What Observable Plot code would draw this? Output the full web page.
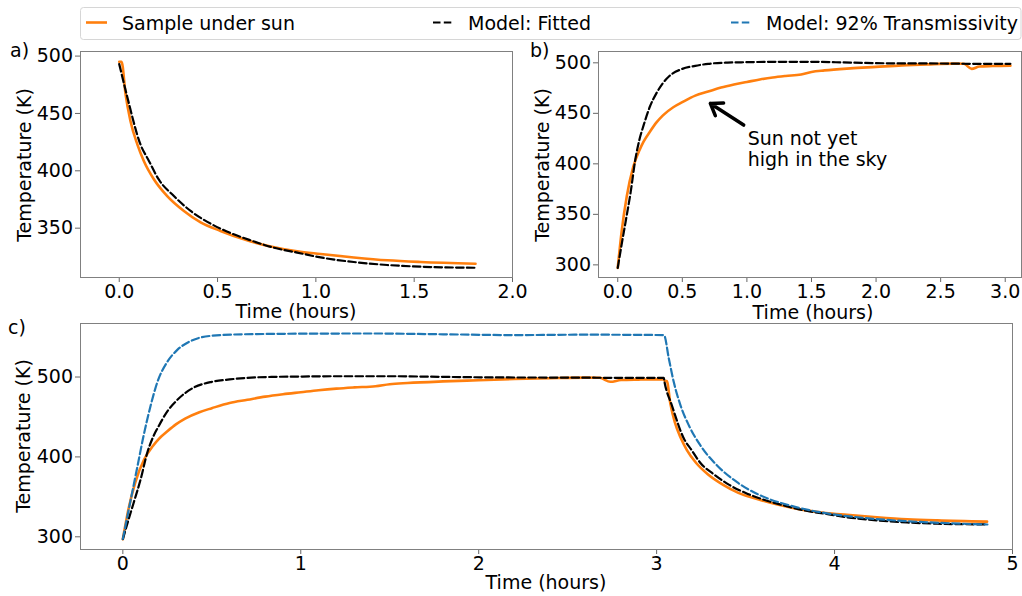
<!DOCTYPE html>
<html><head><meta charset="utf-8">
<script src="https://cdn.jsdelivr.net/npm/d3@7"></script>
<script src="https://cdn.jsdelivr.net/npm/@observablehq/plot@0.6"></script>
<style>
body{margin:0;background:#fff;font-family:"DejaVu Sans",sans-serif;}
#root{position:relative;width:1022px;height:596px;overflow:hidden;background:#fff;}
#root svg{position:absolute;overflow:visible;}
</style></head><body><div id="root"></div>
<script>
// ---------- data (time in hours, temperature in K) ----------
const sampleHeating = [[0,297],[0.03,333],[0.07,368],[0.12,397],[0.17,414],[0.2,422],[0.25,432],[0.3,441],[0.35,448],[0.43,456],[0.5,461],[0.6,467.5],[0.7,471.5],[0.8,475.5],[0.9,478.5],[1.0,481],[1.1,483.5],[1.2,485.5],[1.3,487],[1.42,488.5],[1.5,491],[1.6,492.5],[1.8,494.5],[2.0,496],[2.2,497.5],[2.4,498.5],[2.6,499.2],[2.68,499],[2.74,494],[2.8,496.3],[2.9,496.8],[3.04,497.2]];
const fittedHeating = [[0,297],[0.03,320],[0.06,342],[0.1,372],[0.137,405],[0.17,425],[0.2,438],[0.25,457],[0.3,470],[0.35,480],[0.4,487],[0.5,494],[0.6,497],[0.7,499],[0.85,500.2],[1.0,500.6],[1.2,501],[1.5,501],[1.8,500.2],[2.1,499.5],[2.5,499.3],[2.8,499],[3.04,499]];
const sampleCooling = [[0,495],[0.012,495],[0.032,467],[0.057,443.5],[0.092,423],[0.125,408.6],[0.176,392.7],[0.244,378],[0.329,365],[0.414,355],[0.515,347.6],[0.634,340.3],[0.77,334],[0.905,329.8],[1.024,327.5],[1.193,324.5],[1.363,322],[1.533,320.5],[1.812,319]];
const fittedCooling = [[0,493],[0.04,465],[0.108,423],[0.151,408.6],[0.2,392.7],[0.278,378],[0.363,365],[0.464,354],[0.566,345.8],[0.668,339.4],[0.786,333],[0.905,328.7],[1.024,324.5],[1.193,320.5],[1.363,317.9],[1.533,316.4],[1.807,315.5]];
const transmissivity92 = [[0,297.5],[0.043,345],[0.081,387],[0.118,428],[0.156,464],[0.193,493],[0.25,519],[0.306,534],[0.381,545],[0.493,551.5],[0.68,553.5],[1.055,554.3],[1.4,554.5],[1.8,553.5],[2.2,552.5],[2.6,553],[3.041,552.5],[3.069,522.5],[3.097,493],[3.135,464],[3.182,439],[3.247,414],[3.341,389],[3.454,368],[3.585,351.6],[3.753,339],[3.866,333],[3.94,330],[4.22,322.5],[4.5,318.4],[4.859,315.4]];
const coolingStart = 3.045; // hours, sun removed
const seriesNames = ["Sample under sun","Model: Fitted","Model: 92% Transmissivity"];
const seriesColors = ["#ff7f0e","#000000","#1f77b4"];
const panelLetters = ["a)","b)","c)"];
const xTicksA = [0,0.5,1,1.5,2], yTicksA = [350,400,450,500];
const xTicksB = [0,0.5,1,1.5,2,2.5,3], yTicksB = [300,350,400,450,500];
const xTicksC = [0,1,2,3,4,5], yTicksC = [300,400,500];
const note = "Sun not yet\nhigh in the sky";
const noteArrow = {x1:0.975, y1:438.4, x2:0.717, y2:459.8};
const notePos = {x:1.006, y:434};

const sampleFull = sampleHeating.concat(sampleCooling.map(d=>[d[0]+coolingStart,d[1]]));
const fittedFull = fittedHeating.concat(fittedCooling.map(d=>[d[0]+coolingStart,d[1]]));

const root = document.getElementById("root");
const FONT = "DejaVu Sans";
const FS = 19;
const dash = "7.5,3.3";

function lines(series){
  return series.map(([data,i])=>Plot.line(data,{x:d=>d[0],y:d=>d[1],stroke:seriesColors[i],
    strokeWidth:i===0?2.6:2.2,strokeDasharray:i===0?null:dash,curve:"monotone-x"}));
}

function panel(o){
  const p = Plot.plot({
    width:o.width,height:o.height,
    marginLeft:o.ml,marginRight:o.mr,marginTop:o.mt,marginBottom:o.mb,
    x:{domain:o.xd},y:{domain:o.yd},
    style:{fontSize:FS+"px",fontFamily:FONT,background:"transparent",color:"#000",overflow:"visible"},
    marks:[
      Plot.axisX({ticks:o.xt,tickFormat:o.xf,tickSize:5,tickPadding:2,label:null,stroke:"#666",fill:"#000"}),
      Plot.axisY({ticks:o.yt,tickFormat:d3.format("d"),tickSize:5,tickPadding:2.5,label:null,stroke:"#666",fill:"#000"}),
      ...lines(o.series),
      ...(o.extra||[]),
      Plot.frame({stroke:"#808080",strokeWidth:1})
    ]
  });
  p.style.left=o.left+"px"; p.style.top=o.top+"px";
  root.appendChild(p);
}

panel({left:0,top:0,width:520,height:330,ml:80,mr:8,mt:51,mb:53,
  xd:[-0.197,2.0],yd:[307,504],xt:xTicksA,yt:yTicksA,xf:d3.format(".1f"),
  series:[[sampleCooling,0],[fittedCooling,1]]});

panel({left:520,top:0,width:502,height:330,ml:78,mr:1,mt:51,mb:53,
  xd:[-0.149,3.126],yd:[287.5,511.2],xt:xTicksB,yt:yTicksB,xf:d3.format(".1f"),
  series:[[sampleHeating,0],[fittedHeating,1]],
  extra:[
    Plot.arrow([noteArrow],{x1:"x1",y1:"y1",x2:"x2",y2:"y2",stroke:"#000",strokeWidth:3.5,headLength:12,headAngle:70}),
    Plot.text([note],{x:notePos.x,y:notePos.y,text:d=>d,textAnchor:"start",lineAnchor:"top",lineHeight:1.12,fontSize:FS,fill:"#000"})
  ]});

panel({left:0,top:300,width:1022,height:296,ml:80,mr:10,mt:23,mb:47,
  xd:[-0.238,5.0],yd:[284.1,567],xt:xTicksC,yt:yTicksC,xf:d3.format("d"),
  series:[[sampleFull,0],[fittedFull,1],[transmissivity92,2]]});

// ---------- overlay: legend, panel letters, axis labels ----------
const ov=d3.select(root).append("svg").attr("width",1022).attr("height",596)
  .style("left","0px").style("top","0px").style("pointer-events","none")
  .attr("font-family",FONT).attr("font-size",FS).attr("fill","#000");
ov.append("rect").attr("x",80.5).attr("y",7.5).attr("width",940.5).attr("height",32).attr("rx",3)
  .attr("fill","#fff").attr("fill-opacity",0.8).attr("stroke","#d6d6d6");
const legX=[[86,122],[433,468],[731,766]];
seriesNames.forEach((name,i)=>{
  ov.append("line").attr("x1",legX[i][0]).attr("x2",legX[i][0]+21).attr("y1",22.5).attr("y2",22.5)
    .attr("stroke",seriesColors[i]).attr("stroke-width",i===0?2.6:2.2).attr("stroke-dasharray",i===0?null:dash);
  ov.append("text").attr("x",legX[i][1]).attr("y",29.5).text(name);
});
const letterPos=[[10,57],[530,57],[8,334]];
panelLetters.forEach((t,i)=>ov.append("text").attr("x",letterPos[i][0]).attr("y",letterPos[i][1]).text(t));
const yLab=[[31,165],[549,165],[30,436]];
yLab.forEach(([x,y])=>ov.append("text").attr("transform",`translate(${x},${y}) rotate(-90)`).attr("text-anchor","middle").text("Temperature (K)"));
const xLab=[[296,318],[813,319],[546,589]];
xLab.forEach(([x,y])=>ov.append("text").attr("x",x).attr("y",y).attr("text-anchor","middle").text("Time (hours)"));
</script></body></html>
